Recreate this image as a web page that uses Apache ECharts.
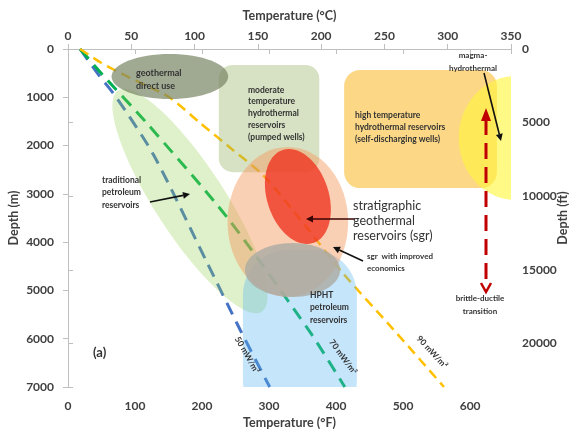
<!DOCTYPE html>
<html>
<head>
<meta charset="utf-8">
<script src="https://cdn.jsdelivr.net/npm/echarts@6/dist/echarts.min.js"></script>
<style>
  html, body { margin: 0; padding: 0; background: #fff; }
  #main { width: 571px; height: 429px; }
</style>
</head>
<body>
<div id="main"></div>
<script>
// geotherms, [temperature (°F), depth (m)]
var geotherm50 = [[18, 0], [46, 540], [72, 1000], [128, 2200], [207, 4410], [257, 5820], [301, 7000]];
var geotherm70 = [[18, 0], [52, 540], [116, 1510], [237, 3480], [361, 5860], [413, 7000]];
var geotherm90 = [[18, 0], [50, 290], [90, 580], [150, 990], [197, 1530], [246, 2090], [290, 2600], [345, 3500], [410, 4640], [485, 5800], [561, 7000]];

// zones: ellipses [centre °F, centre m, half width °F, half height m, tilt deg], boxes [°F from, m from, °F to, m to]
var petroleumZone = [182, 3150, 52, 2730, 33];
var hphtBox = [261, 4160, 431, 7800];
var moderateBox = [225, 330, 375, 2550];
var highTempBox = [412, 435, 640, 2880];
var magmaZone = [668, 1843, 85, 1284, 0];
var sgrEconZone = [328, 3583, 90, 1553, 0];
var sgrZone = [343, 3055, 46, 1015, 18];
var hphtZone = [335, 4577, 71, 559, 0];
var directUseZone = [152, 570, 87, 466, 0];

var tempF_max = 661;   // bottom axis end, matches 350 °C on top
var tempC_max = 350;
var depthM_max = 7000;
var depthFt_max = 22966;

var zones = [
  { kind: 'ellipse', value: petroleumZone, color: 'rgba(146,208,80,0.30)' },
  { kind: 'box', value: hphtBox, color: 'rgba(90,180,240,0.35)', r: 45 },
  { kind: 'box', value: moderateBox, color: 'rgba(150,180,100,0.38)', r: 14 },
  { kind: 'box', value: highTempBox, color: 'rgba(250,190,60,0.62)', r: 16 },
  { kind: 'ellipse', value: magmaZone, color: 'rgba(255,245,60,0.62)' },
  { kind: 'ellipse', value: sgrEconZone, color: 'rgba(245,150,90,0.45)' },
  { kind: 'ellipse', value: sgrZone, color: 'rgba(240,50,30,0.78)' },
  { kind: 'ellipse', value: hphtZone, color: 'rgba(172,172,165,0.82)' },
  { kind: 'ellipse', value: directUseZone, color: 'rgba(120,132,100,0.7)' }
];

var chart = echarts.init(document.getElementById('main'));

var axisCol = '#bfbfbf';
var labelStyle = { color: '#404040', fontWeight: 'bold', fontSize: 12, fontFamily: 'Lato' };
var nameStyle = { color: '#404040', fontWeight: 'bold', fontSize: 12.5, fontFamily: 'Lato' };

function renderZone(params, api) {
  var z = zones[params.dataIndex];
  var v = z.value;
  if (z.kind === 'box') {
    var p1 = api.coord([v[0], v[1]]);
    var p2 = api.coord([v[2], v[3]]);
    return {
      type: 'rect',
      z2: params.dataIndex,
      shape: { x: p1[0], y: p1[1], width: p2[0] - p1[0], height: p2[1] - p1[1], r: z.r },
      style: { fill: z.color }
    };
  }
  var c = api.coord([v[0], v[1]]);
  var s = api.size([v[2], v[3]]);
  return {
    type: 'ellipse',
    z2: params.dataIndex,
    x: c[0],
    y: c[1],
    rotation: v[4] * Math.PI / 180,
    shape: { cx: 0, cy: 0, rx: s[0], ry: s[1] },
    style: { fill: z.color }
  };
}

function geotherm(name, data, color, width, dash) {
  return {
    name: name,
    type: 'line',
    data: data,
    smooth: 0.25,
    showSymbol: false,
    z: 2,
    lineStyle: { color: color, width: width, type: dash }
  };
}

function arrow(x1, y1, x2, y2, color, w, hl) {
  var a = Math.atan2(y2 - y1, x2 - x1);
  var hw = hl * 0.5;
  var bx = x2 - hl * Math.cos(a), by = y2 - hl * Math.sin(a);
  return [
    { type: 'line', z: 20, shape: { x1: x1, y1: y1, x2: bx, y2: by }, style: { stroke: color, lineWidth: w } },
    { type: 'polygon', z: 20, shape: { points: [[x2, y2], [bx + hw * Math.sin(a), by - hw * Math.cos(a)], [bx - hw * Math.sin(a), by + hw * Math.cos(a)]] }, style: { fill: color } }
  ];
}

function note(x, y, text, size, lh, align, weight) {
  return {
    type: 'text', z: 30, x: x, y: y,
    style: {
      text: text, fill: '#333', fontFamily: 'Lato', fontSize: size, fontWeight: weight || 'bold',
      lineHeight: lh, align: align || 'left', verticalAlign: 'top'
    }
  };
}

function slanted(x, y, text, deg) {
  return {
    type: 'text', z: 30, x: x, y: y, rotation: -deg * Math.PI / 180,
    style: { text: text, fill: '#333', fontFamily: 'Lato', fontSize: 8.5, fontWeight: 'bold', align: 'center', verticalAlign: 'middle' }
  };
}

var graphics = [
  note(136, 66.5, 'geothermal\ndirect use', 9, 13),
  note(248, 84, 'moderate\ntemperature\nhydrothermal\nreservoirs\n(pumped wells)', 8.5, 11.8),
  note(355, 109, 'high temperature\nhydrothermal reservoirs\n(self-discharging wells)', 8.5, 12),
  note(473, 48.5, 'magma-\nhydrothermal', 8, 13, 'center'),
  note(102, 174, 'traditional\npetroleum\nreservoirs', 8.5, 12.5),
  note(353, 198.5, 'stratigraphic\ngeothermal\nreservoirs (sgr)', 12.5, 15, 'left', 'normal'),
  note(367, 250, 'sgr  with improved\neconomics', 8, 12),
  note(310, 289, 'HPHT\npetroleum\nreservoirs', 8.5, 12.5),
  note(480, 291.5, 'brittle-ductile\ntransition', 8, 13, 'center'),
  note(93, 345, '(a)', 13, 16),
  slanted(247, 355, '50 mW/m²', 60),
  slanted(343, 357, '70 mW/m²', 54),
  slanted(432, 352, '90 mW/m²', 47),
  // red dashed brittle-ductile arrow
  { type: 'line', z: 20, shape: { x1: 486, y1: 119, x2: 486, y2: 286 }, style: { stroke: '#c00000', lineWidth: 3, lineDash: [16, 8] } },
  { type: 'polygon', z: 20, shape: { points: [[486, 108], [481, 121], [491, 121]] }, style: { fill: '#c00000' } },
  { type: 'polyline', z: 20, shape: { points: [[481, 283], [486, 292], [491, 283]] }, style: { stroke: '#c00000', lineWidth: 2.5, fill: null } }
].concat(
  arrow(150, 202, 190, 194, '#111', 1.6, 7),
  arrow(355, 219, 306, 219, '#3a0505', 1.6, 7),
  arrow(363, 261, 333, 247, '#111', 1.6, 7),
  arrow(484, 73, 501, 141, '#111', 1.6, 7)
);

chart.setOption({
  animation: false,
  grid: { left: 68, right: 60, top: 49, bottom: 42, containLabel: false, outerBoundsMode: 'none' },
  xAxis: [
    {
      type: 'value', position: 'bottom', min: 0, max: tempF_max, interval: 100,
      name: 'Temperature (°F)', nameLocation: 'middle', nameGap: 29, nameMoveOverlap: false, nameTextStyle: nameStyle,
      axisLine: { lineStyle: { color: axisCol } },
      axisTick: { length: 5, lineStyle: { color: axisCol } },
      axisLabel: Object.assign({ margin: 13, formatter: function (v) { return v % 100 === 0 ? String(v) : ''; } }, labelStyle),
      splitLine: { show: false }
    },
    {
      type: 'value', position: 'top', min: 0, max: tempC_max, interval: 50,
      name: 'Temperature (°C)', nameLocation: 'middle', nameGap: 27, nameMoveOverlap: false, nameTextStyle: nameStyle,
      axisLine: { lineStyle: { color: axisCol } },
      axisTick: { length: 5, lineStyle: { color: axisCol } },
      axisLabel: Object.assign({ margin: 7, formatter: function (v) { return String(v); } }, labelStyle),
      splitLine: { show: false }
    }
  ],
  yAxis: [
    {
      type: 'value', position: 'left', inverse: true, min: 0, max: depthM_max, interval: 1000,
      name: 'Depth (m)', nameLocation: 'middle', nameGap: 48, nameRotate: 90, nameMoveOverlap: false, nameTextStyle: nameStyle,
      axisLine: { show: true, lineStyle: { color: axisCol } },
      axisTick: { show: true, length: 5, lineStyle: { color: axisCol } },
      axisLabel: Object.assign({ margin: 14, formatter: function (v) { return String(v); } }, labelStyle),
      splitLine: { show: false }
    },
    {
      type: 'value', position: 'right', inverse: true, min: 0, max: depthFt_max, interval: 5000,
      name: 'Depth (ft)', nameLocation: 'middle', nameGap: 45, nameRotate: 90, nameMoveOverlap: false, nameTextStyle: nameStyle,
      axisLine: { show: true, lineStyle: { color: axisCol } },
      axisTick: { show: true, length: 5, lineStyle: { color: axisCol } },
      axisLabel: Object.assign({ margin: 11, formatter: function (v) { return v % 5000 === 0 ? String(v) : ''; } }, labelStyle),
      splitLine: { show: false }
    }
  ],
  series: [
    geotherm('50 mW/m²', geotherm50, '#4472c4', 3, [13, 8]),
    geotherm('70 mW/m²', geotherm70, '#00b050', 3, [13, 8]),
    geotherm('90 mW/m²', geotherm90, '#ffc000', 2.5, [10, 6]),
    {
      type: 'custom',
      z: 3,
      clip: true,
      renderItem: renderZone,
      encode: { x: 0, y: 1 },
      data: zones.map(function (z) { return z.value; }),
      silent: true
    }
  ],
  graphic: graphics
});
</script>
</body>
</html>
